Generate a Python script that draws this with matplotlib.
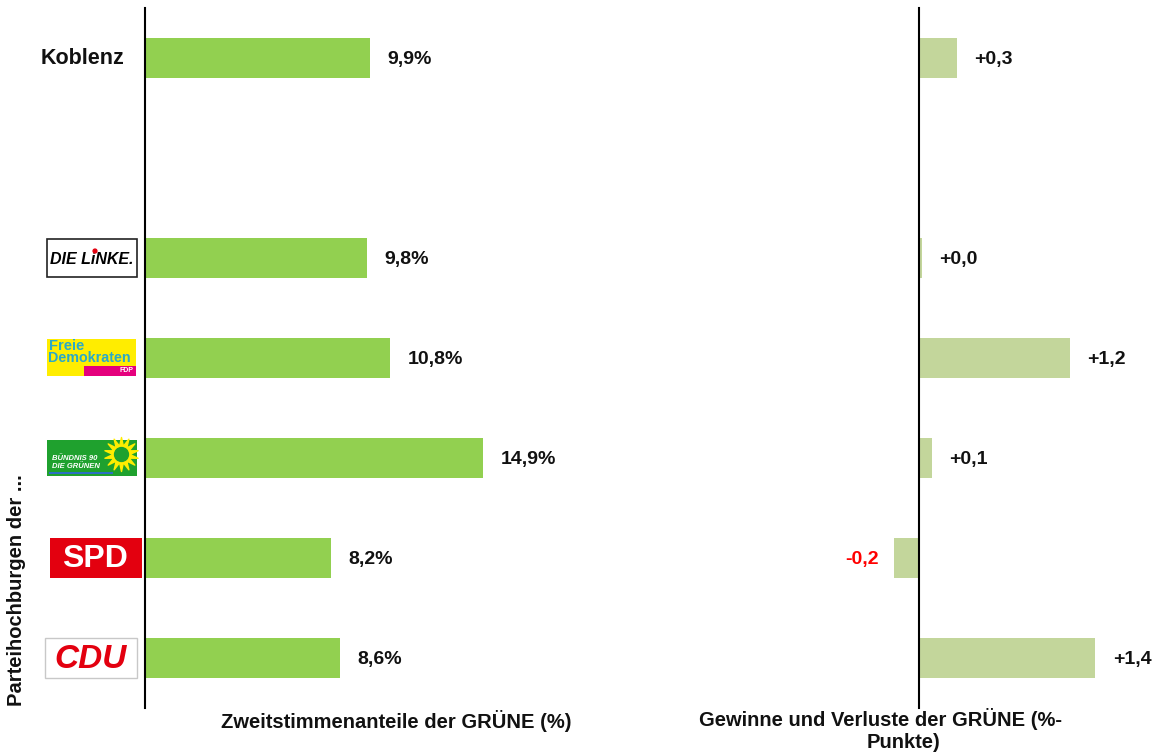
import matplotlib
matplotlib.use("Agg")
import matplotlib.pyplot as plt
from matplotlib.patches import Rectangle, Circle
import numpy as np

plt.rcParams['font.family'] = ['Liberation Sans', 'DejaVu Sans']

# ---- data ----
categories = ["Koblenz", "DIE LINKE", "FDP", "GRÜNE", "SPD", "CDU"]
row_slots = [0, 2, 3, 4, 5, 6]          # an empty slot between Koblenz and the party rows
share = [9.9, 9.8, 10.8, 14.9, 8.2, 8.6]  # Zweitstimmenanteile der GRÜNE (%)
change = [0.3, 0.02, 1.2, 0.1, -0.2, 1.4]  # Gewinne/Verluste (%-Punkte)
change_labels = ["+0,3", "+0,0", "+1,2", "+0,1", "-0,2", "+1,4"]

W, H = 1163, 756
fig = plt.figure(figsize=(W / 100, H / 100), dpi=100)

def fx(px):
    return px / W

def fy(py):
    return 1 - py / H

top_px, bot_px = 8, 708
ax_b = fy(bot_px)
ax_h = (bot_px - top_px) / H

# left panel
L0, L1 = 145, 700
axL = fig.add_axes([fx(L0), ax_b, fx(L1 - L0), ax_h])
pxL = 22.7
axL.set_xlim(0, (L1 - L0) / pxL)
axL.set_ylim(6.5, -0.5)

# right panel
R0, R1, Rz = 780, 1150, 919
pxR = 126.0
axR = fig.add_axes([fx(R0), ax_b, fx(R1 - R0), ax_h])
axR.set_xlim(-(Rz - R0) / pxR, (R1 - Rz) / pxR)
axR.set_ylim(6.5, -0.5)

for ax in (axL, axR):
    for s in ('top', 'right', 'bottom'):
        ax.spines[s].set_visible(False)
    ax.spines['left'].set_linewidth(1.5)
    ax.spines['left'].set_color('black')
    ax.set_xticks([])
    ax.set_yticks([])
    ax.patch.set_alpha(0)
axR.spines['left'].set_position(('data', 0))

bar_h = 0.4
axL.barh(row_slots, share, height=bar_h, color='#92D050', zorder=2)
axR.barh(row_slots, change, height=bar_h, color='#C3D69B', zorder=1)

fs = 14
txt_col = '#111111'
for y, v in zip(row_slots, share):
    axL.annotate(f"{v:.1f}%".replace('.', ','), xy=(v, y), xytext=(12.5, -1.2),
                 textcoords='offset points', ha='left', va='center',
                 fontsize=fs, fontweight='bold', color=txt_col)
for y, v, lab in zip(row_slots, change, change_labels):
    if v < 0:
        axR.annotate(lab, xy=(v, y), xytext=(-10.5, -1.2), textcoords='offset points',
                     ha='right', va='center', fontsize=fs, fontweight='bold',
                     color='#FF0000')
    else:
        axR.annotate(lab, xy=(max(v, 0), y), xytext=(12.5, -1.2), textcoords='offset points',
                     ha='left', va='center', fontsize=fs, fontweight='bold',
                     color=txt_col)

# axis titles
tfs = 14.5
fig.text(fx(396), fy(721), "Zweitstimmenanteile der GRÜNE (%)", ha='center', va='center',
         fontsize=tfs, fontweight='bold', color=txt_col)
fig.text(fx(881), fy(719), "Gewinne und Verluste der GRÜNE (%-", ha='center',
         va='center', fontsize=tfs, fontweight='bold', color=txt_col)
fig.text(fx(903), fy(742), "Punkte)", ha='center',
         va='center', fontsize=tfs, fontweight='bold', color=txt_col)
fig.text(fx(17), fy(590), "Parteihochburgen der ...", rotation=90, ha='center',
         va='center', fontsize=tfs, fontweight='bold', color=txt_col)

# ---- row labels / logos (overlay in pixel coords) ----
ov = fig.add_axes([0, 0, 1, 1], zorder=-1)
ov.set_xlim(0, W)
ov.set_ylim(H, 0)
ov.axis('off')

def row_px(slot):
    return top_px + (slot + 0.5) * (bot_px - top_px) / 7

# Koblenz
ov.text(83, row_px(row_slots[0]) + 1, categories[0], ha='center', va='center',
        fontsize=15.5, fontweight='bold', color=txt_col)

# DIE LINKE
yc = row_px(row_slots[1])
ov.add_patch(Rectangle((47, yc - 19), 90, 38, facecolor='white', edgecolor='#222222', lw=1.2))
ov.text(92, yc + 1, "DIE LiNKE.", ha='center', va='center', fontsize=11.5,
        fontweight='bold', style='italic', color='black')
ov.add_patch(Circle((95.0, yc - 7.0), 1.9, color='#E3000F', zorder=5))

# FDP
yc = row_px(row_slots[2])
ov.add_patch(Rectangle((47, yc - 19), 89, 37, facecolor='#FFED00', edgecolor='none'))
ov.add_patch(Rectangle((84, yc + 8), 52, 10, facecolor='#E5007D', edgecolor='none'))
ov.text(49, yc - 12, "Freie", ha='left', va='center', fontsize=10.5, fontweight='bold',
        color='#2AA9C8')
ov.text(48, yc + 0, "Demokraten", ha='left', va='center', fontsize=10.3, fontweight='bold',
        color='#2AA9C8')
ov.text(133, yc + 13, "FDP", ha='right', va='center', fontsize=5, fontweight='bold',
        color='white')

# GRÜNE
yc = row_px(row_slots[3])
ov.add_patch(Rectangle((47, yc - 18), 90, 36, facecolor='#1FA12E', edgecolor='none'))
ov.add_patch(Rectangle((49, yc + 14), 64, 1.5, facecolor='#2b6fc2', edgecolor='none'))
ov.scatter([121], [yc - 4], s=600, marker=(14, 1, 0), color='#FFED00', zorder=4)
ov.scatter([121], [yc - 4], s=100, marker='o', color='#1FA12E', zorder=5)
ov.text(52, yc + 1, "BÜNDNIS 90", ha='left', va='center', fontsize=5.5, fontweight='bold',
        style='italic', color='white')
ov.text(52, yc + 9, "DIE GRÜNEN", ha='left', va='center', fontsize=5.5, fontweight='bold',
        style='italic', color='white')

# SPD
yc = row_px(row_slots[4])
ov.add_patch(Rectangle((50, yc - 20), 92, 40, facecolor='#E3000F', edgecolor='none'))
ov.text(95, yc + 1, "SPD", ha='center', va='center', fontsize=23, fontweight='bold',
        color='white')

# CDU
yc = row_px(row_slots[5])
ov.add_patch(Rectangle((45, yc - 20), 92, 40, facecolor='white', edgecolor='#c8c8c8', lw=1))
ov.text(91, yc + 1, "CDU", ha='center', va='center', fontsize=24, fontweight='bold',
        style='italic', color='#E3000F')

fig.savefig("out.png", dpi=100)
